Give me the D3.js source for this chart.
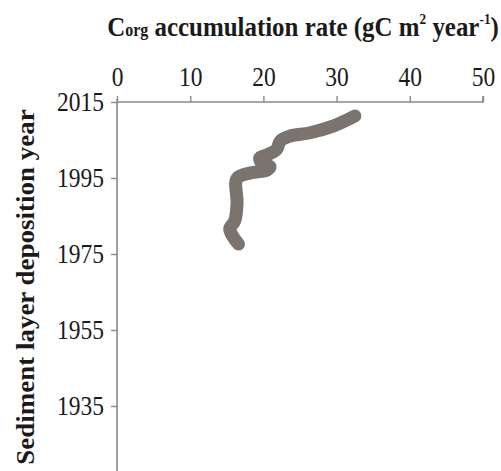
<!DOCTYPE html>
<html>
<head>
<meta charset="utf-8">
<script src="https://cdn.jsdelivr.net/npm/d3@7"></script>
<style>
  html, body { margin: 0; padding: 0; background: #fff; }
  svg { display: block; }
  text { font-family: "Liberation Serif", "Times New Roman", serif; fill: #1a1a1a; }
</style>
</head>
<body>
<div id="chart"></div>
<script>
// Organic carbon accumulation rate through the sediment core
const rateValues = [32.5, 29.6, 26.4, 23.6, 22.3, 21.8, 20.5, 19.5, 19.8, 20.9, 20.5, 18.2, 16.4, 16.4, 16.1, 15.4, 15.9, 16.6];
const yearValues = [2011.3, 2008.7, 2006.9, 2006.0, 2004.7, 2002.5, 2001.1, 2000.3, 1998.9, 1998.0, 1997.1, 1996.3, 1994.9, 1988.3, 1983.8, 1981.6, 1979.4, 1977.6];
const rateTicks = [0, 10, 20, 30, 40, 50];
const yearTicks = [2015, 1995, 1975, 1955, 1935, 1915];

const width = 501, height = 471;
const textSqueeze = 0.87;   // narrow serif lettering
const svg = d3.select("#chart").append("svg")
  .attr("width", width).attr("height", height);

const x = d3.scaleLinear().domain([0, 50]).range([117, 483]);
const y = d3.scaleLinear().domain([2015, 1915]).range([102, 482]);

const axisColor = "#8f8984";

// top axis
const xAxis = svg.append("g")
  .attr("transform", `translate(0,${y(2015)})`)
  .call(d3.axisTop(x).tickValues(rateTicks).tickSize(6).tickPadding(10));
xAxis.select(".domain").attr("stroke", axisColor).attr("stroke-width", 1.6)
  .attr("d", `M${x(0)},0H${x(50)}V-6`);
xAxis.selectAll(".tick line").attr("stroke", axisColor).attr("stroke-width", 1.4);
xAxis.selectAll(".tick text")
  .attr("font-size", 27).attr("fill", "#1a1a1a")
  .style("font-family", '"Liberation Serif", serif')
  .attr("transform", `scale(${textSqueeze},1)`);

// left axis
const yAxis = svg.append("g")
  .attr("transform", `translate(${x(0)},0)`)
  .call(d3.axisLeft(y).tickValues(yearTicks).tickFormat(d3.format("d")).tickSize(6).tickPadding(7));
yAxis.select(".domain").attr("stroke", axisColor).attr("stroke-width", 1.6)
  .attr("d", `M0,${y(2015) - 3}V${height + 5}`);
yAxis.selectAll(".tick line").attr("stroke", axisColor).attr("stroke-width", 1.4);
yAxis.selectAll(".tick text")
  .attr("font-size", 27).attr("fill", "#1a1a1a")
  .style("font-family", '"Liberation Serif", serif')
  .attr("x", 0)
  .attr("transform", `translate(-13,0) scale(${textSqueeze},1)`);

// data line
const pts = rateValues.map((r, i) => [r, yearValues[i]]);
svg.append("path")
  .datum(pts)
  .attr("fill", "none")
  .attr("stroke", "#7a736e")
  .attr("stroke-width", 13)
  .attr("stroke-linecap", "round")
  .attr("stroke-linejoin", "round")
  .attr("d", d3.line().x(d => x(d[0])).y(d => y(d[1])).curve(d3.curveCatmullRom.alpha(0.5)));

// title
const title = svg.append("text")
  .attr("transform", `translate(303,36) scale(0.89,1)`)
  .attr("text-anchor", "middle")
  .attr("font-size", 28).attr("font-weight", "bold");
title.append("tspan").text("C");
title.append("tspan").attr("font-size", 18).text("org");
title.append("tspan").text(" accumulation rate (gC m");
title.append("tspan").attr("font-size", 15).attr("dy", -12).text("2");
title.append("tspan").attr("dy", 12).text(" year");
title.append("tspan").attr("font-size", 15).attr("dy", -12).text("-1");
title.append("tspan").attr("dy", 12).text(")");

// y axis title
svg.append("text")
  .attr("transform", `translate(34,287) rotate(-90) scale(1,0.9)`)
  .attr("text-anchor", "middle")
  .attr("font-size", 27).attr("font-weight", "bold")
  .text("Sediment layer deposition year");
</script>
</body>
</html>
